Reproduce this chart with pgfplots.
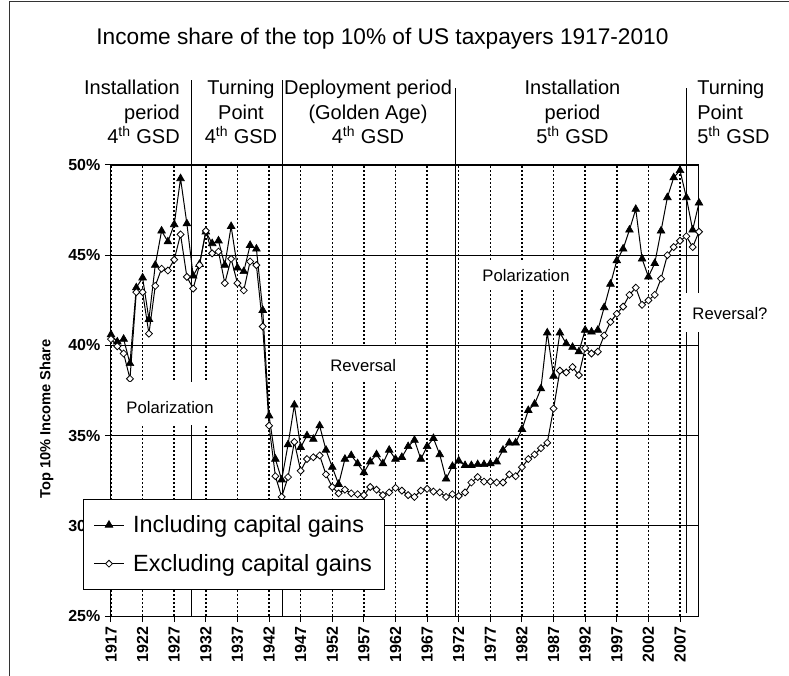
\documentclass[border=0pt]{standalone}
\usepackage{fontspec}
\setmainfont{Liberation Sans}
\usepackage{pgfplots}
\pgfplotsset{compat=1.18}
\usepackage{pgfplotstable}

\pgfplotstableread{
year incl excl
1917 40.60 40.35
1918 40.20 39.95
1919 40.35 39.55
1920 39.00 38.15
1921 43.20 42.95
1922 43.75 42.95
1923 41.45 40.65
1924 44.45 43.30
1925 46.35 44.25
1926 45.75 44.15
1927 46.70 44.75
1928 49.25 46.15
1929 46.75 43.80
1930 43.85 43.15
1931 44.50 44.45
1932 46.30 46.35
1933 45.65 45.10
1934 45.80 45.20
1935 44.45 43.45
1936 46.60 44.80
1937 44.30 43.45
1938 44.10 43.05
1939 45.55 44.65
1940 45.35 44.45
1941 41.95 41.05
1942 36.10 35.55
1943 33.70 32.75
1944 32.55 31.60
1945 34.50 32.70
1946 36.70 34.65
1947 34.35 33.05
1948 35.00 33.70
1949 34.80 33.80
1950 35.55 33.90
1951 34.20 32.85
1952 33.25 32.15
1953 32.30 31.80
1954 33.70 32.00
1955 33.90 31.80
1956 33.45 31.75
1957 32.95 31.70
1958 33.55 32.15
1959 33.95 32.00
1960 33.45 31.70
1961 34.20 31.85
1962 33.70 32.10
1963 33.80 31.95
1964 34.40 31.70
1965 34.75 31.60
1966 33.70 31.95
1967 34.40 32.05
1968 34.85 31.90
1969 33.95 31.85
1970 32.60 31.60
1971 33.30 31.75
1972 33.60 31.65
1973 33.35 31.85
1974 33.35 32.40
1975 33.40 32.70
1976 33.40 32.45
1977 33.45 32.45
1978 33.55 32.40
1979 34.20 32.40
1980 34.60 32.85
1981 34.60 32.75
1982 35.35 33.25
1983 36.40 33.70
1984 36.75 33.95
1985 37.60 34.30
1986 40.70 34.60
1987 38.30 36.50
1988 40.70 38.60
1989 40.10 38.50
1990 39.90 38.80
1991 39.65 38.35
1992 40.85 39.85
1993 40.75 39.55
1994 40.85 39.65
1995 42.10 40.55
1996 43.40 41.30
1997 44.70 41.75
1998 45.35 42.15
1999 46.40 42.80
2000 47.55 43.20
2001 44.80 42.25
2002 43.80 42.50
2003 44.55 42.80
2004 46.35 43.70
2005 48.20 45.00
2006 49.30 45.45
2007 49.70 45.80
2008 48.20 46.05
2009 46.40 45.45
2010 47.90 46.30
}\datatable

\begin{document}
\begin{tikzpicture}
% period separators (drawn first, below data and legend)
\draw[line width=0.75pt] (60.5pt,0pt) -- (60.5pt,402pt);
\draw[line width=0.75pt] (128.8pt,0pt) -- (128.8pt,402pt);
\draw[line width=0.75pt] (258.5pt,0pt) -- (258.5pt,396pt);
\draw[line width=0.75pt] (431.25pt,2pt) -- (431.25pt,396pt);

\begin{axis}[
  scale only axis,
  width=441pt, height=338.25pt,
  xmin=1917, xmax=2010, ymin=25, ymax=50,
  axis line style={line width=0.75pt},
  tick pos=left,
  tick align=outside,
  major tick length=4.5pt,
  major tick style={line width=0.75pt, black},
  xtick={1917,1922,1927,1932,1937,1942,1947,1952,1957,1962,1967,1972,1977,1982,1987,1992,1997,2002,2007},
  xticklabels={1917,1922,1927,1932,1937,1942,1947,1952,1957,1962,1967,1972,1977,1982,1987,1992,1997,2002,2007},
  ytick={25,30,35,40,45,50},
  yticklabels={25\%,30\%,35\%,40\%,45\%,50\%},
  xticklabel style={rotate=90, anchor=east, font=\bfseries\fontsize{12pt}{12pt}\selectfont},
  yticklabel style={font=\bfseries\fontsize{12pt}{12pt}\selectfont},
  xmajorgrids, ymajorgrids,
  major x grid style={black, line width=1.1pt, dash pattern=on 1.5pt off 1.5pt},
  major y grid style={black, line width=0.6pt},
  legend cell align=left,
  legend style={at={(-0.0476,0.2594)}, anchor=north west, draw=black, fill=white,
    line width=0.75pt, inner xsep=7.5pt, inner ysep=10pt, row sep=10.75pt,
    font=\fontsize{17.6pt}{20pt}\selectfont,
    nodes={inner xsep=2pt},
    /tikz/every odd column/.append style={column sep=4.5pt}},
  legend image code/.code={\draw[mark repeat=2,mark phase=2,#1] plot coordinates {(0pt,0pt) (11.25pt,0pt) (22.5pt,0pt)};},
]
\addplot[black, line width=0.75pt, mark=triangle*, mark size=3.3pt, mark options={fill=black, line width=0.5pt}]
  table[x=year, y=incl] {\datatable};
\addlegendentry{Including capital gains}
\addplot[black, line width=0.75pt, mark=square*, mark size=1.85pt, mark options={fill=white, rotate=45, line width=0.6pt}]
  table[x=year, y=excl] {\datatable};
\addlegendentry{Excluding capital gains}
\end{axis}

% frame
\draw[line width=0.75pt, black!80] (-75.75pt,-50pt) -- (-75.75pt,460.5pt) -- (515pt,460.5pt);

% title
\node[anchor=base, inner sep=0pt, font=\fontsize{17pt}{20pt}\selectfont] at (203.6pt,428.8pt)
  {Income share of the top 10\% of US taxpayers 1917-2010};

% period labels
\begin{scope}[every node/.style={inner sep=0pt, font=\fontsize{15pt}{18pt}\selectfont}]
\node[anchor=base east] at (51.75pt,390.75pt) {Installation};
\node[anchor=base east] at (51.75pt,372.5pt) {period};
\node[anchor=base east] at (51.75pt,354.5pt) {4\textsuperscript{th} GSD};
\node[anchor=base] at (97.5pt,390.75pt) {Turning};
\node[anchor=base] at (97.5pt,372.5pt) {Point};
\node[anchor=base] at (97.5pt,354.5pt) {4\textsuperscript{th} GSD};
\node[anchor=base] at (192.75pt,390.75pt) {Deployment period};
\node[anchor=base] at (192.75pt,372.5pt) {(Golden Age)};
\node[anchor=base] at (192.75pt,354.5pt) {4\textsuperscript{th} GSD};
\node[anchor=base] at (346.1pt,390.75pt) {Installation};
\node[anchor=base] at (346.1pt,372.5pt) {period};
\node[anchor=base] at (346.1pt,354.5pt) {5\textsuperscript{th} GSD};
\node[anchor=base west] at (439.5pt,390.75pt) {Turning};
\node[anchor=base west] at (439.5pt,372.5pt) {Point};
\node[anchor=base west] at (439.5pt,354.5pt) {5\textsuperscript{th} GSD};
\end{scope}

% annotation boxes
\fill[white] (5.25pt,143.25pt) rectangle (83.25pt,175.5pt);
\fill[white] (145.5pt,175.5pt) rectangle (224.25pt,202.5pt);
\fill[white] (269.25pt,244.5pt) rectangle (351.75pt,265.5pt);
\fill[white] (429pt,213pt) rectangle (498pt,242.25pt);
\begin{scope}[every node/.style={inner sep=0pt, anchor=base, font=\fontsize{12.5pt}{15pt}\selectfont}]
\node at (44.25pt,152pt) {Polarization};
\node at (189.2pt,183.2pt) {Reversal};
\node at (311.25pt,250.7pt) {Polarization};
\node at (464.25pt,222pt) {Reversal?};
\end{scope}

% y label
\node[rotate=90, font=\bfseries\fontsize{11pt}{13pt}\selectfont] at (-48.4pt,147.75pt) {Top 10\% Income Share};

\pgfresetboundingbox
\useasboundingbox (-83.25pt,-44.25pt) rectangle (508.5pt,462pt);
\end{tikzpicture}
\end{document}
